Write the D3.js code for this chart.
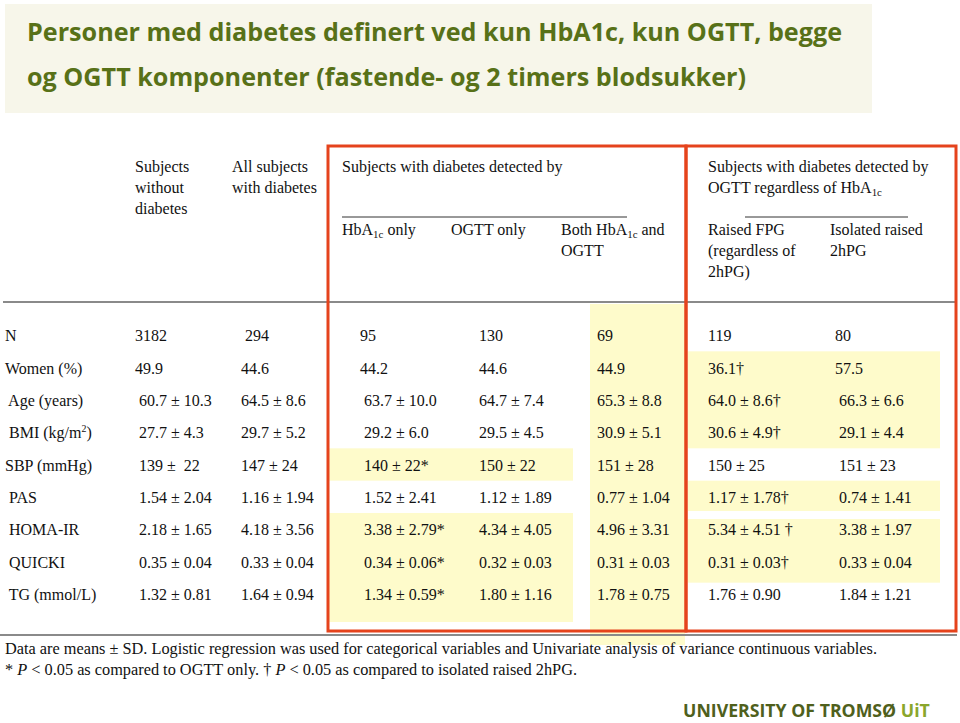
<!DOCTYPE html>
<html>
<head>
<meta charset="utf-8">
<script src="https://cdn.jsdelivr.net/npm/d3@7"></script>
<style>
    body { margin: 0; background: #fff; }
    svg text { white-space: pre; }
</style>
</head>
<body>
<div id="wrapper"></div>
<script>
// ---- data ----
const titleLines = [
    "Personer med diabetes definert ved kun HbA1c, kun OGTT, begge",
    "og OGTT komponenter (fastende- og 2 timers blodsukker)",
]
const rowKeys = ["N", "Women", "Age", "BMI", "SBP", "PAS", "HOMA", "QUICKI", "TG"]
const rowLabels = ["N", "Women (%)", " Age (years)", " BMI (kg/m^{2})", "SBP (mmHg)", " PAS", " HOMA-IR", " QUICKI", " TG (mmol/L)"]

const colKeys = ["without", "all", "hba1c", "ogtt", "both", "fpg", "iso"]
const withoutDiabetes = ["3182", "49.9", " 60.7 ± 10.3", " 27.7 ± 4.3", " 139 ±  22", " 1.54 ± 2.04", " 2.18 ± 1.65", " 0.35 ± 0.04", " 1.32 ± 0.81"]
const allDiabetes = [" 294", "44.6", "64.5 ± 8.6", "29.7 ± 5.2", "147 ± 24", "1.16 ± 1.94", "4.18 ± 3.56", "0.33 ± 0.04", "1.64 ± 0.94"]
const hba1cOnly = ["95", "44.2", " 63.7 ± 10.0", " 29.2 ± 6.0", " 140 ± 22*", " 1.52 ± 2.41", " 3.38 ± 2.79*", " 0.34 ± 0.06*", " 1.34 ± 0.59*"]
const ogttOnly = ["130", "44.6", "64.7 ± 7.4", "29.5 ± 4.5", "150 ± 22", "1.12 ± 1.89", "4.34 ± 4.05", "0.32 ± 0.03", "1.80 ± 1.16"]
const bothTests = ["69", "44.9", "65.3 ± 8.8", "30.9 ± 5.1", "151 ± 28", "0.77 ± 1.04", "4.96 ± 3.31", "0.31 ± 0.03", "1.78 ± 0.75"]
const raisedFpg = ["119", "36.1†", "64.0 ± 8.6†", "30.6 ± 4.9†", "150 ± 25", "1.17 ± 1.78†", "5.34 ± 4.51 †", "0.31 ± 0.03†", "1.76 ± 0.90"]
const isolated2h = ["80", "57.5", " 66.3 ± 6.6", " 29.1 ± 4.4", " 151 ± 23", " 0.74 ± 1.41", " 3.38 ± 1.97", " 0.33 ± 0.04", " 1.84 ± 1.21"]
const columns = [withoutDiabetes, allDiabetes, hba1cOnly, ogttOnly, bothTests, raisedFpg, isolated2h]

// header text blocks: key, level (0 = group header, 1 = sub header), lines
const headerKeys = ["without", "all", "groupA", "hba1c", "ogtt", "both", "groupB", "fpg", "iso"]
const headerLines = [
    ["Subjects", "without", "diabetes"],
    ["All subjects", "with diabetes"],
    ["Subjects with diabetes detected by"],
    ["HbA_{1c} only"],
    ["OGTT only"],
    ["Both HbA_{1c} and", "OGTT"],
    ["Subjects with diabetes detected by", "OGTT regardless of HbA_{1c}"],
    ["Raised FPG", "(regardless of", "2hPG)"],
    ["Isolated raised", "2hPG"],
]
const headerLevel = [0, 0, 0, 1, 1, 1, 0, 1, 1]

const footnotes = [
    "Data are means ± SD. Logistic regression was used for categorical variables and Univariate analysis of variance continuous variables.",
    "* ~{P} < 0.05 as compared to OGTT only. † ~{P} < 0.05 as compared to isolated raised 2hPG.",
]

// yellow highlighted blocks (columns, first row, last row)
const highlights = [
    { cols: ["both"], from: "N", to: "TG", extTop: 15, extBottom: 35 },
    { cols: ["hba1c", "ogtt"], from: "SBP", to: "SBP", extTop: 0, extBottom: 0 },
    { cols: ["hba1c", "ogtt"], from: "HOMA", to: "TG", extTop: 0, extBottom: 12 },
    { cols: ["fpg", "iso"], from: "Women", to: "BMI", extTop: 0, extBottom: 0 },
    { cols: ["fpg", "iso"], from: "PAS", to: "PAS", extTop: 0, extBottom: -2 },
    { cols: ["fpg", "iso"], from: "HOMA", to: "QUICKI", extTop: -6, extBottom: 5 },
]

// ---- layout ----
const dimensions = { width: 960, height: 723 }
const serif = "'Liberation Serif', 'Times New Roman', serif"
const sans = "'Open Sans', 'Noto Sans', sans-serif"

const svg = d3.select("#wrapper")
    .append("svg")
    .attr("width", dimensions.width)
    .attr("height", dimensions.height)

const rowScale = d3.scaleBand().domain(rowKeys).range([319, 610])
const colX = d3.scaleOrdinal().domain(colKeys).range([135, 241, 360, 479, 597, 708, 835])
const cellLeft = d3.scaleOrdinal().domain(colKeys).range([0, 0, 329, 451, 590, 688, 815])
const cellRight = d3.scaleOrdinal().domain(colKeys).range([0, 0, 451, 573, 685, 815, 940])
const headerX = d3.scaleOrdinal().domain(headerKeys).range([135, 232, 342, 342, 451, 561, 708, 708, 830])
const headerTop = d3.scaleOrdinal().domain([0, 1]).range([172, 235])
const lineStep = 21

// minimal rich text: _{sub} ^{sup} ~{italic}
function rich(textSel, str) {
    const parts = str.split(/(_\{[^}]*\}|\^\{[^}]*\}|~\{[^}]*\})/).filter(s => s !== "")
    let offset = 0
    parts.forEach(p => {
        let want = 0, size = null, italic = false, txt = p
        if (p.startsWith("_{")) { want = 3; size = "0.68em"; txt = p.slice(2, -1) }
        else if (p.startsWith("^{")) { want = -6; size = "0.62em"; txt = p.slice(2, -1) }
        else if (p.startsWith("~{")) { italic = true; txt = p.slice(2, -1) }
        const t = textSel.append("tspan").text(txt)
        if (want !== offset) t.attr("dy", want - offset)
        if (size) t.attr("font-size", size)
        if (italic) t.attr("font-style", "italic")
        offset = want
    })
}

// title box
svg.append("rect")
    .attr("x", 5).attr("y", 4)
    .attr("width", 867).attr("height", 109)
    .attr("fill", "#f7f6ea")

svg.append("g")
    .selectAll("text")
    .data(titleLines)
    .join("text")
    .attr("x", 27)
    .attr("y", (d, i) => 41 + i * 45)
    .attr("font-family", sans)
    .attr("font-weight", 700)
    .attr("font-size", 25.5)
    .attr("fill", "#587118")
    .attr("textLength", (d, i) => i === 0 ? 815 : 719)
    .attr("lengthAdjust", "spacingAndGlyphs")
    .text(d => d)

// yellow highlights
svg.append("g")
    .selectAll("rect")
    .data(highlights)
    .join("rect")
    .attr("x", d => d3.min(d.cols, c => cellLeft(c)))
    .attr("width", d => d3.max(d.cols, c => cellRight(c)) - d3.min(d.cols, c => cellLeft(c)))
    .attr("y", d => rowScale(d.from) - d.extTop)
    .attr("height", d => rowScale(d.to) + rowScale.bandwidth() + d.extBottom - rowScale(d.from) + d.extTop)
    .attr("fill", "#fefbcb")

// horizontal rules
svg.append("line")
    .attr("x1", 3).attr("x2", 957)
    .attr("y1", 302).attr("y2", 302)
    .attr("stroke", "#8a8a8a").attr("stroke-width", 2)
svg.append("line")
    .attr("x1", 0).attr("x2", 957)
    .attr("y1", 635).attr("y2", 635)
    .attr("stroke", "#8a8a8a").attr("stroke-width", 2)

// header underlines
svg.append("line")
    .attr("x1", 342).attr("x2", 627)
    .attr("y1", 217).attr("y2", 217)
    .attr("stroke", "#333").attr("stroke-width", 1)
svg.append("line")
    .attr("x1", 745).attr("x2", 908)
    .attr("y1", 217).attr("y2", 217)
    .attr("stroke", "#333").attr("stroke-width", 1)

// red boxes
const red = "#e5431c"
svg.append("rect")
    .attr("x", 328).attr("y", 146)
    .attr("width", 358).attr("height", 485)
    .attr("fill", "none").attr("stroke", red).attr("stroke-width", 3)
svg.append("rect")
    .attr("x", 686).attr("y", 146)
    .attr("width", 270).attr("height", 485)
    .attr("fill", "none").attr("stroke", red).attr("stroke-width", 3)

// header text
const headers = svg.append("g")
    .attr("font-family", serif)
    .attr("font-size", 16)
    .attr("fill", "#111")
headerKeys.forEach((k, i) => {
    headerLines[i].forEach((line, j) => {
        const t = headers.append("text")
            .attr("x", headerX(k))
            .attr("y", headerTop(headerLevel[i]) + j * lineStep)
        rich(t, line)
    })
})

// row labels
const body = svg.append("g")
    .attr("font-family", serif)
    .attr("font-size", 16)
    .attr("fill", "#111")
rowLabels.forEach((label, i) => {
    const t = body.append("text")
        .attr("x", 5)
        .attr("y", rowScale(rowKeys[i]) + rowScale.bandwidth() / 2 + 6)
    rich(t, label)
})

// cells
columns.forEach((values, ci) => {
    body.append("g")
        .selectAll("text")
        .data(values)
        .join("text")
        .attr("x", colX(colKeys[ci]))
        .attr("y", (d, i) => rowScale(rowKeys[i]) + rowScale.bandwidth() / 2 + 6)
        .text(d => d)
})

// footnotes
footnotes.forEach((line, i) => {
    const t = svg.append("text")
        .attr("x", 5)
        .attr("y", 654 + i * 21)
        .attr("font-family", serif)
        .attr("font-size", 16)
        .attr("fill", "#111")
        .attr("textLength", i === 0 ? 872 : 572)
        .attr("lengthAdjust", "spacingAndGlyphs")
    rich(t, line)
})

// logo: condensed by measuring and scaling horizontally
const logoG = svg.append("g")
const logo = logoG.append("text")
    .attr("x", 0).attr("y", 0)
    .attr("font-family", sans)
    .attr("font-weight", 700)
    .attr("font-size", 18)
logo.append("tspan").attr("fill", "#4f601c").text("UNIVERSITY OF TROMSØ ")
logo.append("tspan").attr("fill", "#8aa62c").text("UiT")
const logoW = logo.node().getComputedTextLength()
logoG.attr("transform", `translate(683, 717) scale(${247 / logoW}, 1)`)
</script>
</body>
</html>
